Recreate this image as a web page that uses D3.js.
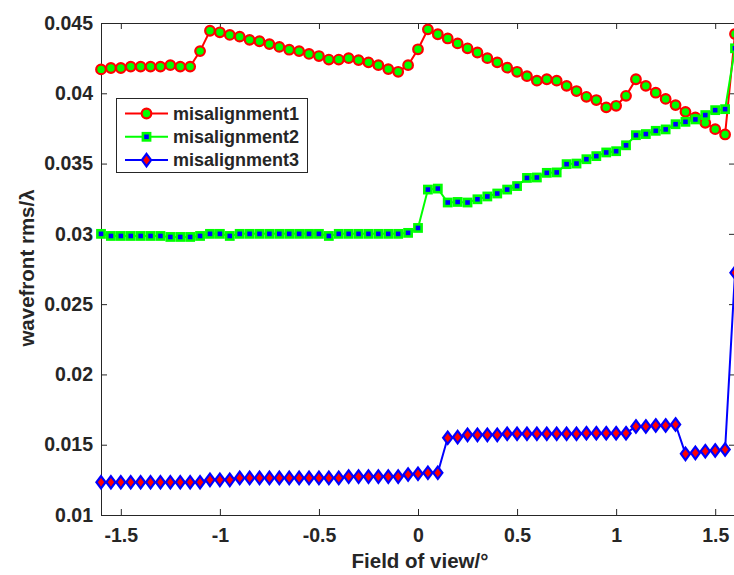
<!DOCTYPE html>
<html>
<head>
<meta charset="utf-8">
<script src="https://cdn.jsdelivr.net/npm/d3@7"></script>
<style>
  html, body { margin: 0; padding: 0; background: #fff; }
  svg { display: block; }
  text { font-family: "Liberation Sans", Arial, sans-serif; font-weight: bold; fill: #262626; }
</style>
</head>
<body>
<svg id="chart" width="734" height="575"></svg>
<script>
// ---- data ----
const fieldOfView = [-1.6,-1.55,-1.5,-1.45,-1.4,-1.35,-1.3,-1.25,-1.2,-1.15,-1.1,-1.05,-1.0,-0.95,-0.9,-0.85,-0.8,-0.75,-0.7,-0.65,-0.6,-0.55,-0.5,-0.45,-0.4,-0.35,-0.3,-0.25,-0.2,-0.15,-0.1,-0.05,0.0,0.05,0.1,0.15,0.2,0.25,0.3,0.35,0.4,0.45,0.5,0.55,0.6,0.65,0.7,0.75,0.8,0.85,0.9,0.95,1.0,1.05,1.1,1.15,1.2,1.25,1.3,1.35,1.4,1.45,1.5,1.55,1.6];

const misalignment1 = [0.0417,0.0418,0.0418,0.0419,0.0419,0.0419,0.0419,0.0420,0.0419,0.0419,0.0430,0.04445,0.04434,0.04415,0.04403,0.0438,0.0437,0.0435,0.0433,0.0431,0.0430,0.0428,0.04265,0.0424,0.0424,0.0425,0.04236,0.0422,0.0420,0.04172,0.04153,0.0420,0.04313,0.04455,0.0442,0.0439,0.04355,0.0432,0.0429,0.0425,0.0422,0.04182,0.04153,0.04122,0.0409,0.0410,0.0409,0.04053,0.04016,0.03975,0.03952,0.0390,0.03911,0.03982,0.0410,0.04053,0.04004,0.0396,0.03916,0.03868,0.03828,0.0379,0.03745,0.03707,0.04422];

const misalignment2 = [0.0300,0.02985,0.02985,0.02985,0.02985,0.02985,0.02985,0.02978,0.02978,0.02978,0.02985,0.0300,0.0300,0.02985,0.0300,0.0300,0.0300,0.0300,0.0300,0.0300,0.0300,0.0300,0.0300,0.02985,0.0300,0.0300,0.0300,0.0300,0.0300,0.0300,0.0300,0.03007,0.03042,0.03315,0.03322,0.03223,0.03227,0.03223,0.03246,0.03266,0.03287,0.03315,0.0334,0.03398,0.03401,0.03434,0.03437,0.03496,0.0350,0.03531,0.03553,0.03579,0.03588,0.0363,0.03702,0.0371,0.03733,0.03743,0.0378,0.03797,0.03814,0.03845,0.0388,0.03887,0.0432];

const misalignment3 = [0.01233,0.01233,0.01233,0.01233,0.01233,0.01233,0.01233,0.01233,0.01233,0.01233,0.01233,0.0125,0.0125,0.0125,0.01264,0.01264,0.01264,0.01264,0.01264,0.01264,0.01264,0.01264,0.01264,0.01264,0.01264,0.01273,0.01273,0.01273,0.01273,0.01273,0.01273,0.01288,0.01293,0.0130,0.0130,0.01549,0.01554,0.0157,0.0157,0.0157,0.0157,0.01578,0.01578,0.01578,0.01578,0.01578,0.01578,0.01578,0.01578,0.01582,0.01582,0.01582,0.01582,0.01582,0.0163,0.0163,0.01637,0.01637,0.01644,0.01435,0.01442,0.01454,0.01459,0.01466,0.02724];

const seriesNames = ["misalignment1", "misalignment2", "misalignment3"];
const xTicks = [-1.5, -1, -0.5, 0, 0.5, 1, 1.5];
const yTicks = [0.01, 0.015, 0.02, 0.025, 0.03, 0.035, 0.04, 0.045];
const xLabel = "Field of view/°";
const yLabel = "wavefront rms/λ";

// ---- layout ----
const svg = d3.select("#chart");
svg.append("rect").attr("width", 734).attr("height", 575).attr("fill", "#fff");

const pLeft = 101, pRight = 735, pTop = 23, pBottom = 515;
const x = d3.scaleLinear().domain([-1.6, 1.6]).range([pLeft, pRight]);
const y = d3.scaleLinear().domain([0.01, 0.045]).range([pBottom, pTop]);

const axisColor = "#262626";
const fmtX = d => String(d);
const fmtY = d => String(+d.toFixed(3));

// axes with inward ticks (MATLAB style)
const gB = svg.append("g").attr("transform", `translate(0,${pBottom})`)
  .call(d3.axisBottom(x).tickValues(xTicks).tickSizeInner(-6).tickSizeOuter(0).tickPadding(13).tickFormat(fmtX));
const gT = svg.append("g").attr("transform", `translate(0,${pTop})`)
  .call(d3.axisTop(x).tickValues(xTicks).tickSizeInner(-6).tickSizeOuter(0).tickFormat(""));
const gL = svg.append("g").attr("transform", `translate(${pLeft},0)`)
  .call(d3.axisLeft(y).tickValues(yTicks).tickSizeInner(-6).tickSizeOuter(0).tickPadding(8).tickFormat(fmtY));
const gR = svg.append("g").attr("transform", `translate(${pRight},0)`)
  .call(d3.axisRight(y).tickValues(yTicks).tickSizeInner(-6).tickSizeOuter(0).tickFormat(""));

[gB, gT, gL, gR].forEach(g => {
  g.select(".domain").attr("stroke", axisColor).attr("stroke-width", 1);
  g.selectAll(".tick line").attr("stroke", axisColor).attr("stroke-width", 1);
  g.selectAll(".tick text").attr("font-size", 19.5).attr("font-family", "Liberation Sans, Arial, sans-serif")
    .attr("font-weight", "bold").attr("fill", "#262626");
});

// axis titles
svg.append("text").attr("x", 420).attr("y", 568)
  .attr("text-anchor", "middle").attr("font-size", 20.5).text(xLabel);
svg.append("text").attr("transform", `translate(34,268) rotate(-90)`)
  .attr("text-anchor", "middle").attr("font-size", 20.5).text(yLabel);

// ---- series ----
const series = [
  { name: seriesNames[0], values: misalignment1, line: "#ff0000", marker: "circle", fill: "#00ff00", edge: "#ff0000" },
  { name: seriesNames[1], values: misalignment2, line: "#00ff00", marker: "square", fill: "#0000ff", edge: "#00ff00" },
  { name: seriesNames[2], values: misalignment3, line: "#0000ff", marker: "diamond", fill: "#ff0000", edge: "#0000ff" }
];

const lineGen = d3.line().x(d => x(d[0])).y(d => y(d[1]));

function drawMarker(g, type, cx, cy, fill, edge) {
  if (type === "circle") {
    g.append("circle").attr("cx", cx).attr("cy", cy).attr("r", 4.8)
      .attr("fill", fill).attr("stroke", edge).attr("stroke-width", 2.2);
  } else if (type === "square") {
    g.append("rect").attr("x", cx - 3.6).attr("y", cy - 3.6).attr("width", 7.2).attr("height", 7.2)
      .attr("fill", fill).attr("stroke", edge).attr("stroke-width", 2.6);
  } else {
    g.append("path").attr("d", `M${cx},${cy - 6.2}L${cx + 4.6},${cy}L${cx},${cy + 6.2}L${cx - 4.6},${cy}Z`)
      .attr("fill", fill).attr("stroke", edge).attr("stroke-width", 2.2);
  }
}

series.forEach(s => {
  const pts = fieldOfView.map((fv, i) => [fv, s.values[i]]);
  const g = svg.append("g");
  g.append("path").attr("d", lineGen(pts)).attr("fill", "none")
    .attr("stroke", s.line).attr("stroke-width", 2);
  pts.forEach(p => drawMarker(g, s.marker, x(p[0]), y(p[1]), s.fill, s.edge));
});

// ---- legend ----
const lg = svg.append("g");
lg.append("rect").attr("x", 116.5).attr("y", 98.5).attr("width", 191).attr("height", 74)
  .attr("fill", "#fff").attr("stroke", "#262626").attr("stroke-width", 1);
series.forEach((s, i) => {
  const cy = 113.5 + i * 23.3;
  lg.append("line").attr("x1", 125).attr("x2", 168).attr("y1", cy).attr("y2", cy)
    .attr("stroke", s.line).attr("stroke-width", 2);
  drawMarker(lg, s.marker, 146.5, cy, s.fill, s.edge);
  lg.append("text").attr("x", 173).attr("y", cy + 6.3).attr("font-size", 18).text(s.name);
});
</script>
</body>
</html>
